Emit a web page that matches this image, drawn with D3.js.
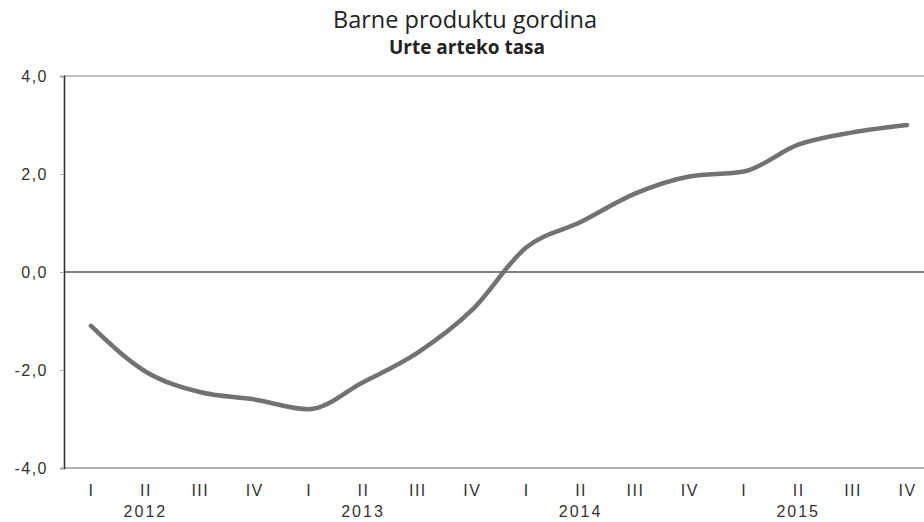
<!DOCTYPE html>
<html><head><meta charset="utf-8">
<script src="https://cdn.jsdelivr.net/npm/d3@7"></script>
<style>body{margin:0;background:#fff}svg{display:block}</style>
</head><body>
<svg id="c" width="924" height="522"></svg>
<script>
const quarters = ["I","II","III","IV","I","II","III","IV","I","II","III","IV","I","II","III","IV"];
const years = ["2012","2013","2014","2015"];
const values = [-1.1,-2.03,-2.45,-2.6,-2.8,-2.25,-1.65,-0.78,0.5,1.02,1.6,1.95,2.05,2.6,2.85,3.0];
const yTicks = [-4,-2,0,2,4];
const title = "Barne produktu gordina";
const subtitle = "Urte arteko tasa";

(function(){
const svg = d3.select("#c");
const mL = 64, mR = 924, mT = 76, mB = 468;
const x = d3.scalePoint().domain(d3.range(quarters.length)).range([91, 907]);
const y = d3.scaleLinear().domain([-4, 4]).range([mB, mT]);
const fmt = v => d3.format(".1f")(v).replace(".", ",").replace("−","-");
const tf = "Liberation Sans, Arial, sans-serif";

svg.append("text").attr("x", 465).attr("y", 28).attr("text-anchor","middle")
  .style("font-family","Open Sans, sans-serif").style("font-size","23.5px").attr("fill","#222").text(title);
svg.append("text").attr("x", 467).attr("y", 54).attr("text-anchor","middle")
  .style("font-family","Open Sans, sans-serif").style("font-size","19px").style("font-weight","bold").attr("fill","#222").text(subtitle);

svg.append("line").attr("x1",mL).attr("x2",mR).attr("y1",y(4)).attr("y2",y(4)).attr("stroke","#aaa").attr("stroke-width",1.5);
svg.append("line").attr("x1",mL).attr("x2",mR).attr("y1",y(-4)).attr("y2",y(-4)).attr("stroke","#999").attr("stroke-width",1.5);
svg.append("line").attr("x1",mL).attr("x2",mR).attr("y1",y(0)).attr("y2",y(0)).attr("stroke","#555").attr("stroke-width",1.3);

const ya = svg.append("g").attr("transform",`translate(${mL},0)`)
  .call(d3.axisLeft(y).tickValues(yTicks).tickSize(4).tickPadding(12).tickFormat(fmt));
ya.select(".domain").attr("stroke","#333").attr("stroke-width",1.6);
ya.selectAll(".tick line").attr("stroke","#aaa");
ya.selectAll("text").style("font-family",tf).style("font-size","16px").style("letter-spacing","1.5px").attr("fill","#333");

const xa = svg.append("g").attr("transform",`translate(0,${mB})`)
  .call(d3.axisBottom(x).tickSize(0).tickPadding(17).tickFormat(i => quarters[i]));
xa.select(".domain").remove();
xa.selectAll("text").style("font-family",tf).style("font-size","16px").style("letter-spacing","1.5px").attr("fill","#333");

svg.selectAll(".year").data(years).join("text").attr("class","year")
  .attr("x",(d,i)=>x(i*4+1)).attr("y",517).attr("text-anchor","middle")
  .style("font-family",tf).style("font-size","16px").style("letter-spacing","2px").attr("fill","#333").text(d=>d);

const line = d3.line().x((d,i)=>x(i)).y(d=>y(d)).curve(d3.curveMonotoneX);
svg.append("path").datum(values).attr("d",line).attr("fill","none")
  .attr("stroke","#727272").attr("stroke-width",4.5).attr("stroke-linecap","round");
})();
</script>
</body></html>
